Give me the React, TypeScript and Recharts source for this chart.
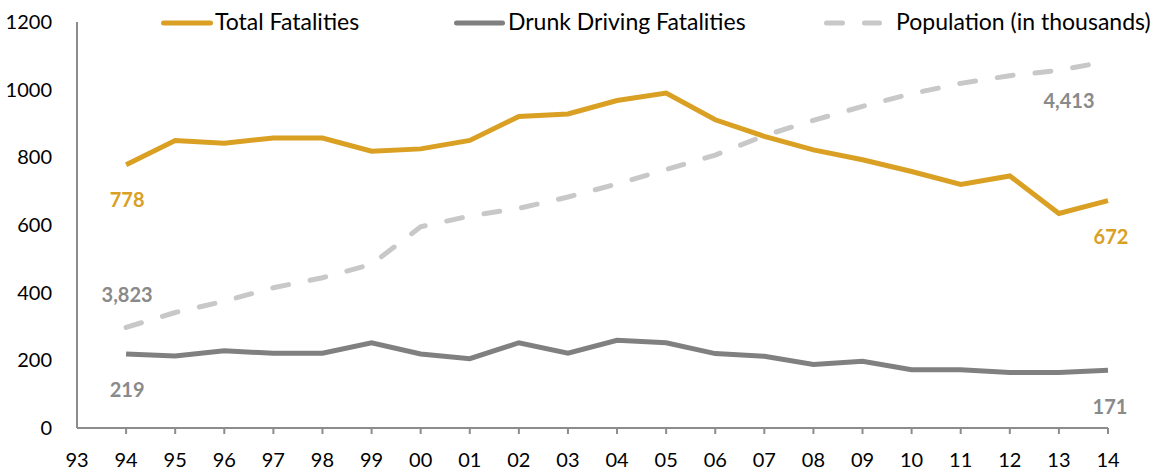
import React from 'react';
import { LineChart, Line, XAxis, YAxis, LabelList } from 'recharts';

const years = ['93', '94', '95', '96', '97', '98', '99', '00', '01', '02', '03', '04', '05', '06', '07', '08', '09', '10', '11', '12', '13', '14'];
const totalFatalities = [null, 778, 850, 842, 857, 857, 818, 825, 850, 921, 928, 968, 990, 911, 862, 822, 793, 758, 720, 745, 634, 672];
const drunkFatalities = [null, 219, 213, 228, 221, 221, 252, 219, 205, 252, 221, 259, 252, 220, 212, 188, 197, 172, 172, 164, 164, 171];
const population = [null, 3823, 3856, 3881, 3911, 3933, 3963, 4046, 4070, 4087, 4112, 4141, 4173, 4205, 4248, 4282, 4313, 4341, 4364, 4381, 4393, 4413];
const leftTicks = [0, 200, 400, 600, 800, 1000, 1200];

const data = years.map((year, i) => ({
  year,
  total: totalFatalities[i],
  drunk: drunkFatalities[i],
  population: population[i],
}));

const FONT = 'Lato, "Open Sans", sans-serif';
const GOLD = '#D9A023';
const DARK_GREY = '#808080';
const LIGHT_GREY = '#C8C8C8';
const LABEL_GREY = '#8A8A8A';
const AXIS = '#8C8C8C';
const DASH = '16 22';

// tick text sits tickSize + tickMargin below the axis line
const TICK_SIZE = 6;
const TICK_MARGIN = 19;

const XTick = (props: any) => {
  const { x, y, payload, index } = props;
  const axisY = y - TICK_SIZE - TICK_MARGIN;
  return (
    <g>
      {index > 0 && <line x1={x} x2={x} y1={axisY} y2={axisY + TICK_SIZE} stroke={AXIS} strokeWidth={2} />}
      <text x={x} y={y} dy="0.71em" textAnchor="middle" fill="#000" fontSize={20} fontFamily={FONT}>
        {payload.value}
      </text>
    </g>
  );
};

const endLabel = (color: string, first: [number, number], last: [number, number]) => (props: any) => {
  const { x, y, value, index } = props;
  if (value == null) return null;
  const isFirst = index === 1;
  const isLast = index === years.length - 1;
  if (!isFirst && !isLast) return null;
  const [dx, dy] = isFirst ? first : last;
  return (
    <text
      x={x + dx}
      y={y + dy}
      textAnchor="middle"
      dominantBaseline="central"
      fill={color}
      fontSize={20}
      fontWeight={700}
      fontFamily={FONT}
    >
      {Number(value).toLocaleString('en-US')}
    </text>
  );
};

const legendItems = [
  { name: 'Total Fatalities', color: GOLD, dash: undefined, x0: 163.5, x1: 210.5, tx: 215 },
  { name: 'Drunk Driving Fatalities', color: DARK_GREY, dash: undefined, x0: 456.5, x1: 502.5, tx: 508 },
  { name: 'Population (in thousands)', color: LIGHT_GREY, dash: DASH, x0: 826.5, x1: 879.5, tx: 896 },
];

const App: React.FC = () => {
  return (
    <div style={{ position: 'absolute', left: 0, top: 0, width: 1155, height: 472, background: '#fff', fontFamily: FONT }}>
      <LineChart width={1155} height={472} data={data} margin={{ top: 22, right: 47, left: 0, bottom: 0 }}>
        <XAxis
          dataKey="year"
          height={44}
          axisLine={{ stroke: AXIS, strokeWidth: 2 }}
          tickLine={false}
          tickSize={TICK_SIZE}
          tickMargin={TICK_MARGIN}
          tick={<XTick />}
          interval={0}
          padding={{ left: 0, right: 0 }}
        />
        <YAxis
          yAxisId="left"
          width={77}
          domain={[0, 1200]}
          ticks={leftTicks}
          axisLine={{ stroke: AXIS, strokeWidth: 2 }}
          tickLine={false}
          tickSize={0}
          tickMargin={25}
          tick={{ fill: '#000', fontSize: 20, fontFamily: FONT }}
        />
        <YAxis yAxisId="pop" orientation="right" hide domain={[3600, 4500]} />
        <Line
          yAxisId="pop"
          dataKey="population"
          stroke={LIGHT_GREY}
          strokeWidth={5}
          strokeDasharray={DASH}
          strokeLinecap="round"
          dot={false}
          activeDot={false}
          isAnimationActive={false}
        >
          <LabelList dataKey="population" content={endLabel(LABEL_GREY, [1, -33], [-39, 39])} />
        </Line>
        <Line
          yAxisId="left"
          dataKey="drunk"
          stroke={DARK_GREY}
          strokeWidth={5}
          dot={false}
          activeDot={false}
          isAnimationActive={false}
        >
          <LabelList dataKey="drunk" content={endLabel(LABEL_GREY, [1, 35], [2, 36])} />
        </Line>
        <Line
          yAxisId="left"
          dataKey="total"
          stroke={GOLD}
          strokeWidth={5}
          dot={false}
          activeDot={false}
          isAnimationActive={false}
        >
          <LabelList dataKey="total" content={endLabel(GOLD, [1, 34], [3, 35])} />
        </Line>
      </LineChart>
      <svg width={1155} height={50} style={{ position: 'absolute', left: 0, top: 0, pointerEvents: 'none' }}>
        {legendItems.map((item) => (
          <g key={item.name}>
            <line
              x1={item.x0}
              x2={item.x1}
              y1={23}
              y2={23}
              stroke={item.color}
              strokeWidth={5}
              strokeLinecap="round"
              strokeDasharray={item.dash}
            />
            <text x={item.tx} y={30} fontSize={23} fill="#000" fontFamily={FONT}>
              {item.name}
            </text>
          </g>
        ))}
      </svg>
    </div>
  );
};

export default App;
